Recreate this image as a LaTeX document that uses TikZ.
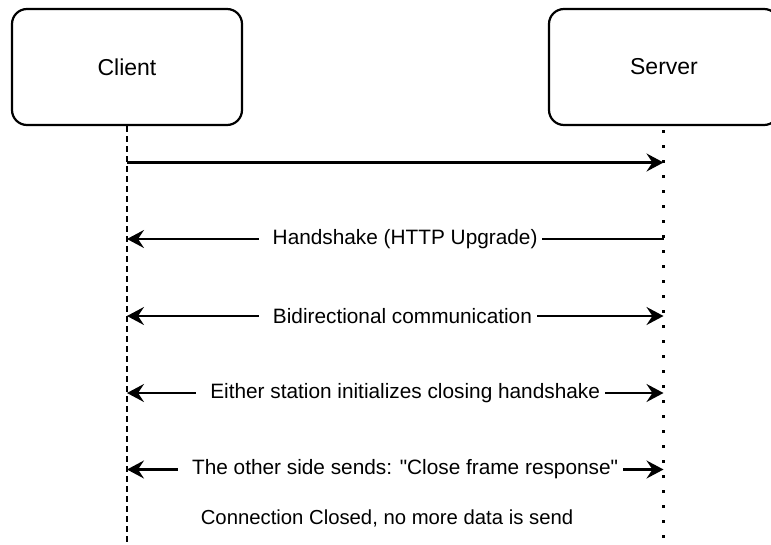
\documentclass[tikz,border=0pt]{standalone}
\usepackage{fontspec}
\setmainfont{Liberation Sans}
\newfontfamily\qfont{Liberation Sans}[Ligatures=ResetAll]
\usetikzlibrary{arrows.meta}
\begin{document}
\begin{tikzpicture}[x=1pt,y=-1pt,
  tip/.tip={Stealth[length=17pt,width=18pt,inset=6pt]},
  actor/.style={draw, line width=2.2pt, rounded corners=15pt, minimum width=230pt, minimum height=116pt, font=\fontsize{23}{27}\selectfont, inner sep=0pt},
  msg/.style={line width=2.2pt, -tip},
  bimsg/.style={line width=2.2pt, tip-tip},
  lbl/.style={fill=white, inner xsep=5pt, inner ysep=2pt, font=\fontsize{20.8}{24}\selectfont},
  cline/.style={line width=2.2pt, dash pattern=on 6pt off 4pt},
  sline/.style={line width=3pt, dash pattern=on 3pt off 12pt}]
\useasboundingbox (0,0) rectangle (771,544);
\clip (0,0) rectangle (771,544);
\node[actor] (client) at (127,67) {Client};
\node[actor] (server) at (664,67) {Server};
\coordinate (cend) at (127,544);
\coordinate (send) at (663.5,544);
\draw[cline] (client.south) -- (cend);
\draw[sline] (663.5,130) -- (send);
\coordinate (c1) at (127,162.5);  \coordinate (s1) at (663.5,162.5);
\coordinate (c2) at (127,239);    \coordinate (s2) at (663.5,239);
\coordinate (c3) at (127,316);    \coordinate (s3) at (663.5,316);
\coordinate (c4) at (127,393);    \coordinate (s4) at (663.5,393);
\coordinate (c5) at (127,469.5);  \coordinate (s5) at (663.5,469.5);
\draw[msg] (c1) -- (s1);
\draw[msg] (s2) -- node[lbl,pos=0.49] {\hspace*{9pt}Handshake (HTTP Upgrade)} (c2);
\draw[bimsg] (c3) -- node[lbl,pos=0.505] {\hspace*{9pt}Bidirectional communication} (s3);
\draw[bimsg] (c4) -- node[lbl,pos=0.51] {\hspace*{9pt}Either station initializes closing handshake} (s4);
\draw[bimsg] (c5) -- node[lbl,pos=0.51] {\hspace*{9pt}The other side sends: {\qfont"}Close frame response{\qfont"}} (s5);
\node[font=\fontsize{20.3}{24}\selectfont] (closed) at (387,518) {Connection Closed, no more data is send};
\end{tikzpicture}
\end{document}
